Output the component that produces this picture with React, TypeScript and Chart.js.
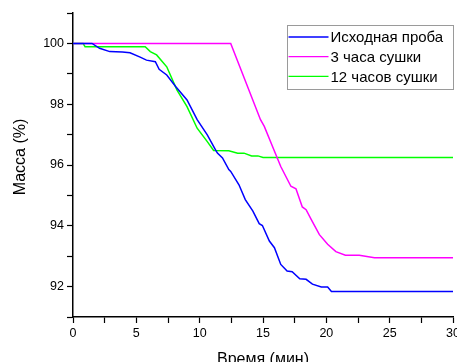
import React, { useEffect, useRef } from "react";
import { Chart, registerables } from "chart.js";

Chart.register(...registerables);

const FONT = '"Liberation Sans", Arial, sans-serif';

const seriesLabels = ["Исходная проба", "3 часа сушки", "12 часов сушки"];
const seriesColors = ["#0000ff", "#ff00ff", "#00ff00"];

const baseTime = [0, 1.5, 2.1, 2.9, 3.9, 4.5, 5.3, 5.8, 6.5, 6.8, 7.4, 8.1, 9.0, 9.8, 10.6, 11.25, 11.4, 11.8, 12.3, 12.45, 13.1, 13.6, 14.2, 14.7, 14.95, 15.5, 15.9, 16.4, 16.9, 17.3, 17.9, 18.4, 18.9, 19.6, 20.1, 20.4, 30];
const baseMass = [100, 100, 99.84, 99.73, 99.72, 99.69, 99.55, 99.45, 99.40, 99.15, 98.96, 98.58, 98.14, 97.49, 96.99, 96.50, 96.39, 96.23, 95.85, 95.79, 95.35, 94.86, 94.48, 94.07, 94.01, 93.50, 93.28, 92.73, 92.51, 92.49, 92.26, 92.24, 92.08, 91.99, 91.99, 91.84, 91.84];

const dry3Time = [0, 12.45, 14.8, 15.1, 15.75, 16.4, 17.2, 17.6, 18.1, 18.4, 18.8, 19.45, 20.1, 20.75, 21.5, 22.6, 23.8, 30];
const dry3Mass = [100, 100, 97.49, 97.27, 96.61, 95.95, 95.30, 95.22, 94.62, 94.53, 94.21, 93.71, 93.39, 93.15, 93.03, 93.03, 92.95, 92.95];

const dry12Time = [0, 0.8, 0.95, 5.7, 6.1, 6.6, 7.4, 8.2, 9.0, 9.8, 10.6, 11.1, 12.3, 13.0, 13.5, 14.1, 14.6, 15.0, 30];
const dry12Mass = [100, 100, 99.89, 99.89, 99.73, 99.62, 99.23, 98.47, 97.92, 97.21, 96.77, 96.48, 96.47, 96.39, 96.39, 96.30, 96.30, 96.25, 96.25];

const xTitle = "Время (мин)";
const yTitle = "Масса (%)";
const xMin = 0, xMax = 30, xStep = 2.5, xLabelEvery = 5;
const yMin = 91, yMax = 101, yStep = 1, yLabelEvery = 2;

const zip = (t: number[], m: number[]) => t.map((x, i) => ({ x, y: m[i] }));

const boxLegend = {
  id: "boxLegend",
  afterDraw(chart: any) {
    const { ctx, chartArea } = chart;
    const w = 166, h = 64;
    const x = Math.round(chartArea.right - w) + 0.5;
    const y = Math.round(chartArea.top + 12) + 0.5;
    ctx.save();
    ctx.strokeStyle = "#9a9a9a";
    ctx.lineWidth = 1;
    ctx.strokeRect(x, y, w, h);
    ctx.font = "15px " + FONT;
    ctx.textBaseline = "middle";
    ctx.textAlign = "left";
    chart.data.datasets.forEach((ds: any, i: number) => {
      const cy = y + 11.5 + i * 19.7;
      ctx.strokeStyle = ds.borderColor;
      ctx.lineWidth = 1.3;
      ctx.beginPath();
      ctx.moveTo(x + 1, cy);
      ctx.lineTo(x + 41, cy);
      ctx.stroke();
      ctx.fillStyle = "#000";
      ctx.fillText(ds.label, x + 43, cy + 1);
    });
    // y-axis title
    ctx.save();
    ctx.translate(21, (chartArea.top + chartArea.bottom) / 2 - 8);
    ctx.rotate(-Math.PI / 2);
    ctx.font = "16px " + FONT;
    ctx.textAlign = "center";
    ctx.textBaseline = "middle";
    ctx.fillStyle = "#000";
    ctx.fillText(yTitle, 0, 0);
    ctx.restore();
    ctx.restore();
  },
};

export default function App() {
  const ref = useRef<HTMLCanvasElement>(null);
  useEffect(() => {
    document.documentElement.style.overflow = "hidden";
    document.body.style.overflow = "hidden";
    const chart = new Chart(ref.current!, {
      type: "line",
      data: {
        datasets: [
          { label: seriesLabels[0], data: zip(baseTime, baseMass), borderColor: seriesColors[0] },
          { label: seriesLabels[1], data: zip(dry3Time, dry3Mass), borderColor: seriesColors[1] },
          { label: seriesLabels[2], data: zip(dry12Time, dry12Mass), borderColor: seriesColors[2] },
        ].map((d) => ({ ...d, borderWidth: 1.5, pointRadius: 0, tension: 0, fill: false })),
      },
      options: {
        animation: false,
        responsive: false,
        events: [],
        layout: { padding: { top: 13, left: 0, right: 0, bottom: 0 } },
        plugins: { legend: { display: false }, tooltip: { enabled: false } },
        scales: {
          x: {
            type: "linear",
            min: xMin,
            max: xMax,
            afterFit: (s: any) => { s.height = 53; },
            border: { color: "#000", width: 1.5 },
            grid: { drawOnChartArea: false, tickLength: 6, tickColor: "#000", tickWidth: 1.2 },
            ticks: {
              stepSize: xStep,
              autoSkip: false,
              maxRotation: 0,
              color: "#000",
              font: { family: FONT, size: 12.5 },
              callback: (v: any) => (Math.abs(v % xLabelEvery) < 1e-6 ? String(v) : ""),
            },
            title: { display: true, text: xTitle, color: "#000", font: { family: FONT, size: 16 }, padding: { top: 0, bottom: 1 } },
          },
          y: {
            type: "linear",
            min: yMin,
            max: yMax,
            afterFit: (s: any) => { s.width = 73; },
            border: { color: "#000", width: 1.5 },
            grid: { drawOnChartArea: false, tickLength: 6, tickColor: "#000", tickWidth: 1.2 },
            ticks: {
              stepSize: yStep,
              autoSkip: false,
              color: "#000",
              font: { family: FONT, size: 12.5 },
              callback: (v: any) => (Math.abs(v % yLabelEvery) < 1e-6 ? String(v) : ""),
            },
            title: { display: false },
          },
        },
      },
      plugins: [boxLegend],
    });
    return () => chart.destroy();
  }, []);
  return (
    <div style={{ position: "fixed", left: 0, top: 0, width: 463, height: 370, background: "#fff" }}>
      <canvas ref={ref} width={463} height={370} style={{ width: 463, height: 370, display: "block" }} />
    </div>
  );
}
